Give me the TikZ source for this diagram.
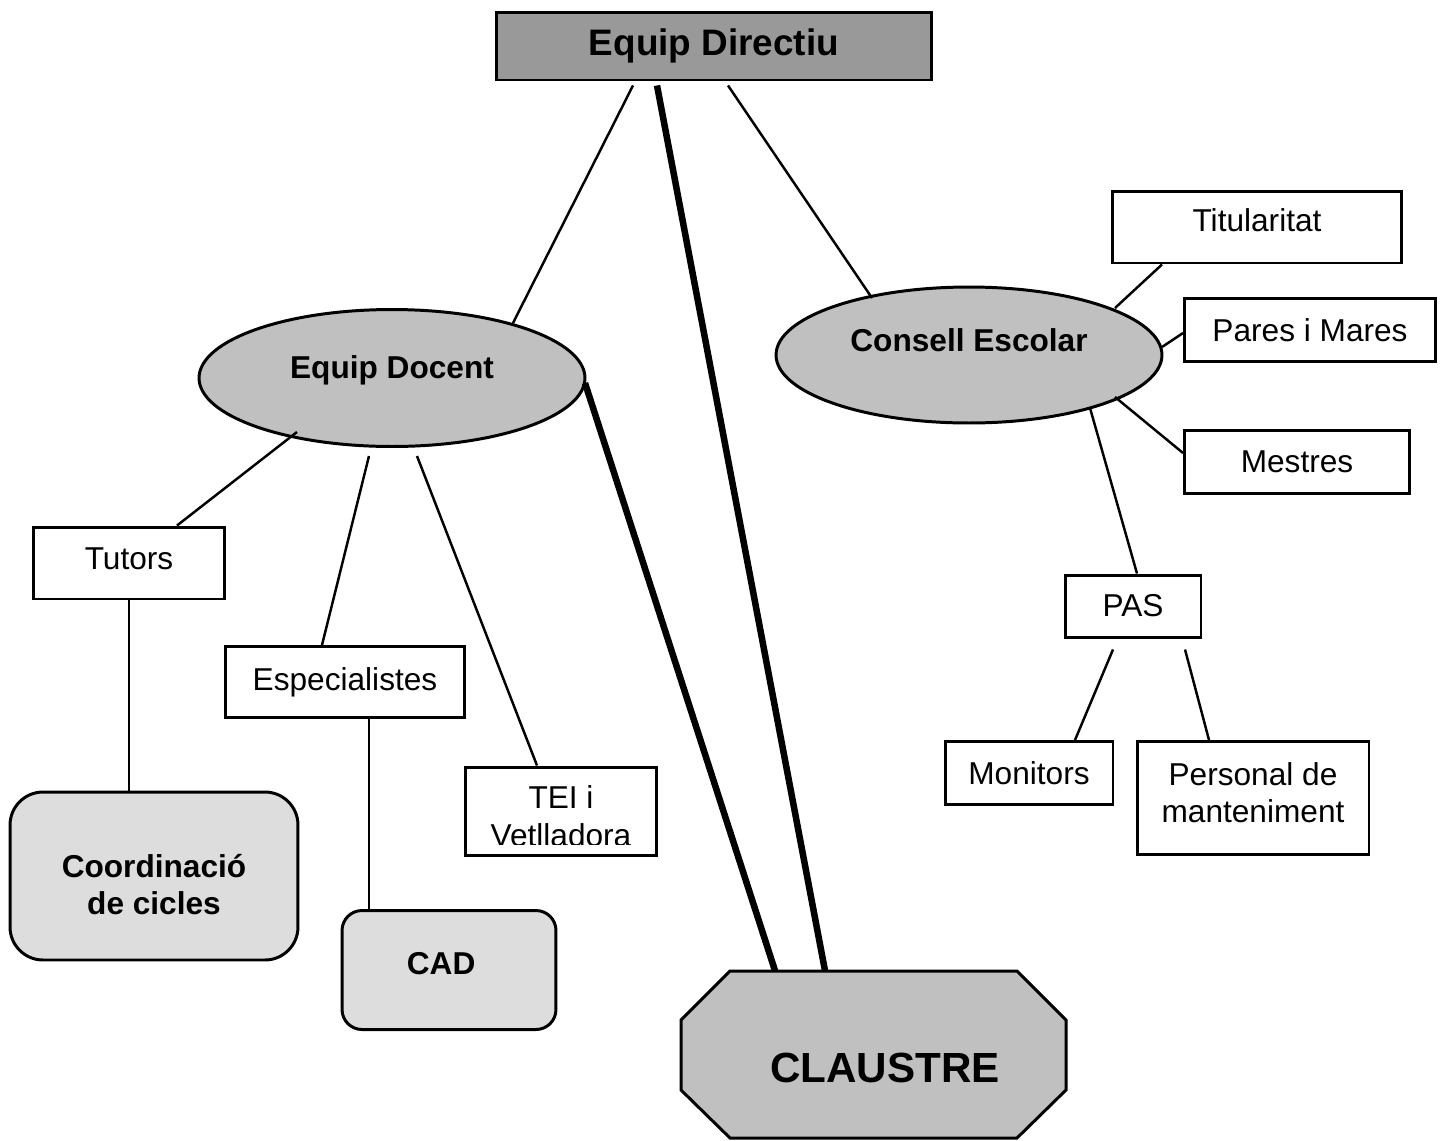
\documentclass[tikz,border=0pt]{standalone}
\usepackage{fontspec}
\setmainfont{Liberation Sans}
\usepackage{xcolor}
\usepackage{tikz}
\usetikzlibrary{shapes.geometric,calc}

\definecolor{dirgray}{HTML}{999999}
\definecolor{midgray}{HTML}{C0C0C0}
\definecolor{palegray}{HTML}{DDDDDD}

\begin{document}
\begin{tikzpicture}[x=0.02cm, y=-0.02cm,
        box/.style={draw, line width=1.7pt, fill=white, font=\fontsize{18}{21}\selectfont, align=center, inner sep=0pt},
        oval/.style={ellipse, draw, line width=1.7pt, fill=midgray, font=\fontsize{18}{21}\selectfont\bfseries, inner sep=0pt},
        roundbox/.style={draw, line width=1.7pt, fill=palegray, inner sep=0pt},
        txt/.style={font=\fontsize{18}{21}\selectfont, align=center, inner sep=0pt},
        boldtxt/.style={txt, font=\fontsize{18}{21}\selectfont\bfseries},
        link/.style={line width=1.4pt},
        heavy/.style={line width=3.7pt}]
        \useasboundingbox (0, 0) rectangle (1446, 1140);

        \node[box, fill=dirgray, minimum width=8.7cm, minimum height=1.36cm, font=\fontsize{21}{24}\selectfont\bfseries] (dir) at (714, 46) {Equip Directiu};
        \node[oval, minimum width=7.72cm, minimum height=2.74cm, text height=6pt, text depth=6pt] (docent) at (392, 378) {Equip Docent};
        \node[oval, minimum width=7.72cm, minimum height=2.72cm, text height=6pt, text depth=10pt] (consell) at (969, 355) {Consell Escolar};

        \node[box, minimum width=5.8cm, minimum height=1.44cm, label={[txt, yshift=4pt]center:Titularitat}] (titul) at (1257, 227) {};
        \node[box, minimum width=5.02cm, minimum height=1.26cm] (pares) at (1310, 330) {Pares i Mares};
        \node[box, minimum width=4.5cm, minimum height=1.26cm] (mestres) at (1297, 462) {Mestres};
        \node[box, minimum width=2.72cm, minimum height=1.24cm] (pas) at (1133, 606) {PAS};
        \node[box, minimum width=3.36cm, minimum height=1.26cm] (monitors) at (1029, 773) {Monitors};
        \node[box, minimum width=4.64cm, minimum height=2.26cm, label={[txt, yshift=2.8pt]center:Personal de\\manteniment}] (personal) at (1253, 798) {};

        \node[box, minimum width=3.84cm, minimum height=1.44cm, label={[txt, yshift=2.3pt]center:Tutors}] (tutors) at (129, 563) {};
        \node[box, minimum width=4.8cm, minimum height=1.42cm] (espec) at (345, 682) {Especialistes};
        \node[box, minimum width=3.84cm, minimum height=1.76cm,
            path picture={
                \clip ([yshift=6pt]path picture bounding box.south west) rectangle (path picture bounding box.north east);
                \node[font=\fontsize{18}{22}\selectfont, align=center] at ([yshift=-3pt]path picture bounding box.center) {TEI i\\Vetlladora};
            }] (tei) at (561, 811) {};

        \node[roundbox, rounded corners=0.66cm, minimum width=5.76cm, minimum height=3.36cm, label={[boldtxt, yshift=-5pt]center:Coordinació\\de cicles}] (coord) at (154, 876) {};
        \node[roundbox, rounded corners=0.4cm, minimum width=4.28cm, minimum height=2.38cm, label={[boldtxt, xshift=-4.5pt, yshift=3.4pt]center:CAD}] (cad) at (449, 970) {};

        \filldraw[fill=midgray, line width=1.7pt] (730, 971) -- (1017, 971) -- (1066, 1020) -- (1066, 1090) -- (1017, 1138) -- (730, 1138) -- (681, 1090) -- (681, 1020) -- cycle;
        \node[minimum width=7.7cm, minimum height=3.34cm, inner sep=0pt, text height=32pt, text depth=0pt,
            font=\fontsize{24}{28}\selectfont\bfseries] (claustre) at (873, 1054.5) {\hspace*{13.6pt}CLAUSTRE};

        \draw[link] ($(dir.south)+(-81, 4)$) -- ($(docent.center)+(121, -55)$);
        \draw[link] ($(dir.south)+(14, 4)$) -- ($(consell.center)+(-97, -57)$);
        \draw[heavy] ($(dir.south)+(-57, 4)$) -- ($(claustre.north)+(-48, 0)$);
        \draw[heavy] ($(docent.center)+(193, 5)$) -- ($(claustre.north)+(-98, 0)$);

        \draw[link] ($(docent.center)+(-95, 54)$) -- ($(tutors.north)+(48, 0)$);
        \draw[link] ($(docent.center)+(-23, 78)$) -- ($(espec.north)+(-23, 0)$);
        \draw[link] ($(docent.center)+(25, 78)$) -- ($(tei.north)+(-24, 0)$);
        \draw[link] (tutors.south) -- (tutors.south |- coord.north);
        \draw[link] ($(espec.south)+(24, 0)$) -- ($(cad.north)+(-80, 0)$);

        \draw[link] ($(consell.center)+(146, -47)$) -- ($(titul.south)+(-95, 0)$);
        \draw[link] ($(consell.center)+(193, -8)$) -- ($(pares.west)+(0, 3)$);
        \draw[link] ($(consell.center)+(146, 42)$) -- ($(mestres.west)+(0, -9)$);
        \draw[link] ($(consell.center)+(121, 53)$) -- ($(pas.north)+(4, 0)$);
        \draw[link] ($(pas.south)+(-20, 11)$) -- ($(monitors.north)+(46, 0)$);
        \draw[link] ($(pas.south)+(52, 11)$) -- ($(personal.north)+(-44, 0)$);

    \end{tikzpicture}
\end{document}
